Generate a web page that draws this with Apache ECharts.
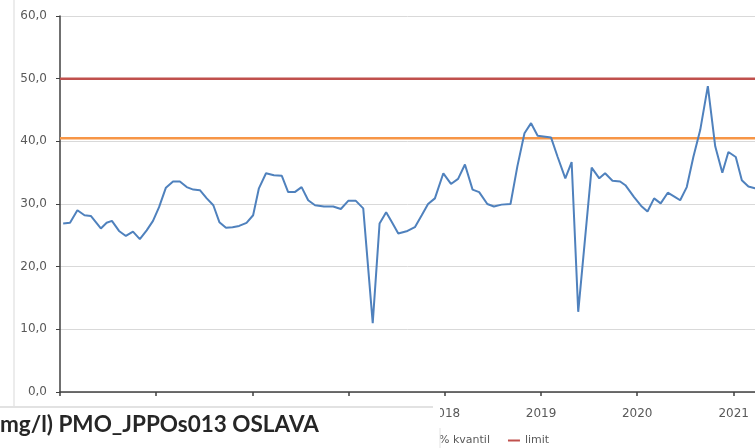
<!DOCTYPE html>
<html>
<head>
<meta charset="utf-8">
<script src="https://cdn.jsdelivr.net/npm/echarts@6/dist/echarts.min.js"></script>
<style>
html,body{margin:0;padding:0;background:#fff;}
#chart{width:755px;height:448px;}
</style>
</head>
<body>
<div id="chart"></div>
<script>
// Sample dates and values
const sampleDates = [
 '2014-01-13','2014-02-08','2014-03-08','2014-04-04','2014-04-28','2014-06-05','2014-06-27','2014-07-17',
 '2014-08-13','2014-09-08','2014-10-05','2014-10-31','2014-11-26','2014-12-20','2015-01-12','2015-02-07',
 '2015-03-06','2015-04-01','2015-04-27','2015-05-22','2015-06-16','2015-07-12','2015-08-06','2015-08-29',
 '2015-09-23','2015-10-18','2015-11-12','2015-12-10','2016-01-04','2016-01-26','2016-02-22','2016-03-23',
 '2016-04-22','2016-05-16','2016-06-10','2016-07-06','2016-07-31','2016-08-26','2016-09-29','2016-11-03',
 '2016-12-02','2016-12-30','2017-01-28','2017-02-25','2017-04-02','2017-04-28','2017-05-23','2017-06-14',
 '2017-07-08','2017-08-12','2017-09-09','2017-10-05','2017-10-29','2017-11-24','2017-12-26','2018-01-24',
 '2018-02-20','2018-03-18','2018-04-16','2018-05-11','2018-06-11','2018-07-06','2018-08-04','2018-09-07',
 '2018-10-03','2018-10-30','2018-11-24','2018-12-19','2019-02-08','2019-03-05','2019-04-03','2019-04-27',
 '2019-05-22','2019-07-12','2019-08-10','2019-09-01','2019-09-29','2019-10-28','2019-11-17','2019-12-20',
 '2020-01-16','2020-02-09','2020-03-05','2020-03-30','2020-04-26','2020-05-24','2020-06-12','2020-07-07',
 '2020-08-01','2020-08-27','2020-09-25','2020-10-23','2020-11-19','2020-12-12','2021-01-09','2021-02-01',
 '2021-02-26','2021-03-23','2021-04-18'
];
const codValues = [
 26.9,27.0,29.0,28.2,28.1,26.1,27.0,27.3,
 25.7,24.9,25.6,24.4,25.8,27.3,29.5,32.6,
 33.6,33.6,32.7,32.3,32.2,30.9,29.8,27.1,
 26.2,26.3,26.5,27.0,28.2,32.5,34.9,34.6,
 34.5,31.9,31.9,32.7,30.6,29.8,29.6,29.6,
 29.2,30.5,30.5,29.3,11.0,26.9,28.7,27.1,
 25.3,25.7,26.3,28.2,30.0,30.9,34.9,33.2,
 34.0,36.3,32.3,31.9,30.0,29.6,29.9,30.0,
 36.0,41.3,42.9,40.9,40.6,37.5,34.1,36.7,
 12.8,35.8,34.1,34.9,33.7,33.6,33.0,31.1,
 29.7,28.8,30.9,30.1,31.8,31.1,30.6,32.7,
 37.5,41.8,48.8,39.2,35.0,38.3,37.5,33.8,
 32.8,32.5,32.2
];
const refDates = ['2014-01-01','2021-12-31'];
const limitValues = [50, 50];
const quantileValues = [40.5, 40.5];
const axisStart = '2014-01-01';
const axisEnd = '2021-03-23';
const yMin = 0, yMax = 60, yStep = 10;

const pair = (ds, vs) => ds.map((d, i) => [d, vs[i]]);

const chart = echarts.init(document.getElementById('chart'), null, {renderer: 'canvas'});
chart.setOption({
  animation: false,
  backgroundColor: '#ffffff',
  textStyle: {fontFamily: 'DejaVu Sans'},
  grid: {left: 60, right: 0, top: 16, bottom: 56, containLabel: false},
  legend: {
    left: 403, top: 430,
    data: ['90% kvantil', 'limit'],
    icon: 'rect',
    itemWidth: 12, itemHeight: 2, itemGap: 18,
    textStyle: {fontSize: 11, color: '#595959', fontFamily: 'DejaVu Sans'}
  },
  xAxis: {
    type: 'time',
    min: axisStart, max: axisEnd,
    splitNumber: 7,
    axisLine: {show: true, lineStyle: {color: '#404040', width: 1.5}},
    axisTick: {show: true, length: 4, lineStyle: {color: '#404040', width: 1.5}},
    axisLabel: {formatter: '{yyyy}', fontSize: 12, color: '#595959', margin: 16, fontFamily: 'DejaVu Sans'},
    splitLine: {show: false},
    minorTick: {show: false}
  },
  yAxis: {
    type: 'value', min: yMin, max: yMax, interval: yStep,
    axisLine: {show: true, lineStyle: {color: '#404040', width: 1.5}},
    axisTick: {show: true, length: 4, lineStyle: {color: '#404040'}},
    axisLabel: {formatter: v => v.toFixed(1).replace('.', ','), fontSize: 12, color: '#595959', margin: 13, fontFamily: 'DejaVu Sans'},
    splitLine: {show: true, lineStyle: {color: '#d9d9d9', width: 1}}
  },
  series: [
    {name: 'CHSK-Cr', type: 'line', symbol: 'none', data: pair(sampleDates, codValues),
     lineStyle: {color: '#4F81BD', width: 2}, itemStyle: {color: '#4F81BD'}, z: 3},
    {name: '90% kvantil', type: 'line', symbol: 'none', data: pair(refDates, quantileValues),
     lineStyle: {color: '#F79646', width: 2.5}, itemStyle: {color: '#F79646'}, z: 2},
    {name: 'limit', type: 'line', symbol: 'none', data: pair(refDates, limitValues),
     lineStyle: {color: '#C0504D', width: 2.5}, itemStyle: {color: '#C0504D'}, z: 2}
  ],
  graphic: [
    {type: 'line', z: 100, shape: {x1: 14, y1: 0, x2: 14, y2: 407}, style: {stroke: '#d9d9d9', lineWidth: 1}},
    {type: 'rect', z: 100, shape: {x: 0, y: 406, width: 440, height: 42}, style: {fill: '#ffffff'}},
    {type: 'line', z: 101, shape: {x1: 0, y1: 407, x2: 433, y2: 407}, style: {stroke: '#d9d9d9', lineWidth: 1.5}},
    {type: 'line', z: 101, shape: {x1: 440, y1: 428, x2: 440, y2: 448}, style: {stroke: '#e3e3e3', lineWidth: 1}},
    {type: 'text', z: 102, x: 0, y: 425,
     style: {text: 'mg/l) PMO_JPPOs013 OSLAVA', fill: '#262626', font: 'bold 22.5px Lato', textVerticalAlign: 'middle', verticalAlign: 'middle'}}
  ]
});
</script>
</body>
</html>
